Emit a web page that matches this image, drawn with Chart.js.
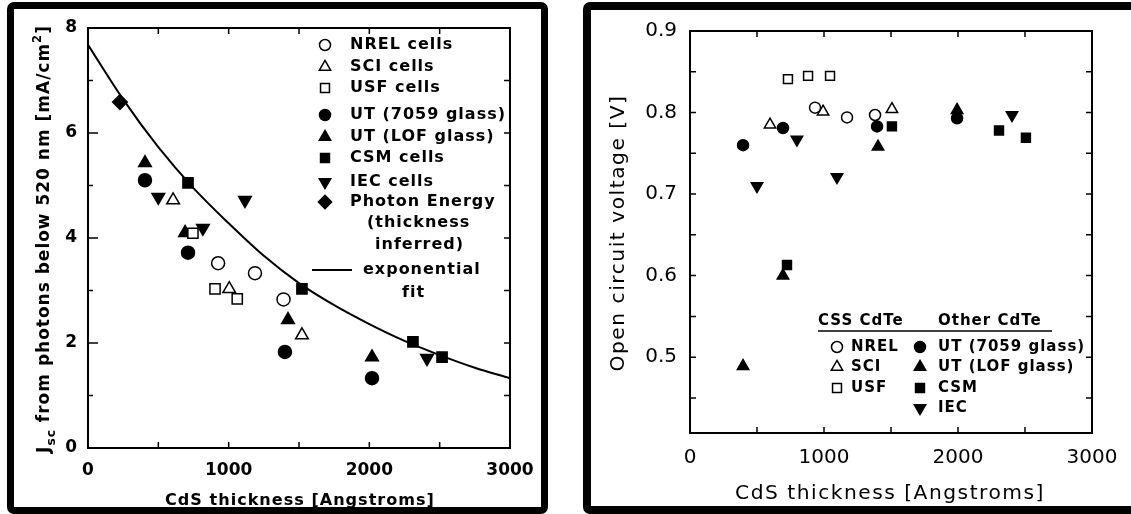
<!DOCTYPE html>
<html>
<head>
<meta charset="utf-8">
<script src="https://cdn.jsdelivr.net/npm/chart.js@4.4.1/dist/chart.umd.min.js"></script>
<style>
  html, body { margin: 0; padding: 0; background: #fff; }
  body { width: 1131px; height: 514px; position: relative; overflow: hidden; }
  canvas { position: absolute; top: 0; }
  .frame { position: absolute; border: 7px solid #000; border-radius: 7px; box-sizing: border-box; pointer-events: none; }
</style>
</head>
<body>
<canvas id="jsc" width="565" height="514" style="left:0"></canvas>
<canvas id="voc" width="566" height="514" style="left:565px"></canvas>
<div class="frame" style="left:7px;top:2px;width:541px;height:512px"></div>
<div class="frame" style="left:583px;top:2px;width:560px;height:512px;border-width:8px"></div>
<script>
// ---- axes ----
const thicknessTicks = [0, 1000, 2000, 3000];
const thicknessTickLabels = ['0', '1000', '2000', '3000'];
const thicknessMarks = [500, 1000, 1500, 2000, 2500];

const jscTicks = [0, 2, 4, 6, 8];
const jscTickLabels = ['0', '2', '4', '6', '8'];
const jscMinorMarks = [1, 3, 5, 7];

const vocTicks = [0.5, 0.6, 0.7, 0.8, 0.9];
const vocTickLabels = ['0.5', '0.6', '0.7', '0.8', '0.9'];
const vocMarks = [0.45, 0.5, 0.55, 0.6, 0.65, 0.7, 0.75, 0.8, 0.85];

// ---- left panel: Jsc below 520 nm [thickness, mA/cm2] ----
const jNrel    = [[925, 3.52], [1187, 3.33], [1390, 2.83]];
const jSci     = [[605, 4.72], [1004, 3.03], [1521, 2.15]];
const jUsf     = [[746, 4.09], [903, 3.03], [1061, 2.84]];
const jUt7059  = [[405, 5.10], [711, 3.72], [1400, 1.83], [2019, 1.33]];
const jUtLof   = [[405, 5.43], [690, 4.10], [1422, 2.44], [2019, 1.73]];
const jCsm     = [[711, 5.05], [1521, 3.03], [2310, 2.02], [2517, 1.73]];
const jIec     = [[500, 4.78], [817, 4.19], [1116, 4.72], [2410, 1.71]];
const jPhoton  = [[227, 6.59]];
const jFitX    = [0, 250, 500, 750, 1000, 1250, 1500, 1750, 2000, 2250, 2500, 2750, 3000];
const jFitY    = [7.68, 6.64, 5.73, 4.95, 4.28, 3.66, 3.14, 2.72, 2.36, 2.04, 1.77, 1.53, 1.33];
const jLegendLabels = ['NREL cells', 'SCI cells', 'USF cells', 'UT (7059 glass)', 'UT (LOF glass)', 'CSM cells', 'IEC cells', 'Photon Energy'];

// ---- right panel: open circuit voltage [thickness, V] ----
const vNrel    = [[933, 0.806], [1172, 0.794], [1381, 0.797]];
const vSci     = [[597, 0.785], [993, 0.801], [1507, 0.804]];
const vUsf     = [[731, 0.841], [881, 0.845], [1045, 0.845]];
const vUt7059  = [[396, 0.760], [694, 0.781], [1396, 0.783], [1993, 0.793]];
const vUtLof   = [[396, 0.489], [694, 0.600], [1403, 0.758], [1993, 0.803]];
const vCsm     = [[724, 0.613], [1507, 0.783], [2306, 0.778], [2507, 0.769]];
const vIec     = [[500, 0.710], [798, 0.767], [1097, 0.721], [2403, 0.797]];
const vCssLabels   = ['NREL', 'SCI', 'USF'];
const vOtherLabels = ['UT (7059 glass)', 'UT (LOF glass)', 'CSM', 'IEC'];

const FAMILY = '"DejaVu Sans", sans-serif';
Chart.defaults.font.family = FAMILY;
Chart.defaults.color = '#000';

// marker look per group
const ST = {
  nrel:   { pointStyle: 'circle',   fill: false },
  sci:    { pointStyle: 'triangle', fill: false },
  usf:    { pointStyle: 'rect',     fill: false },
  ut7059: { pointStyle: 'circle',   fill: true },
  utLof:  { pointStyle: 'triangle', fill: true },
  csm:    { pointStyle: 'rect',     fill: true },
  iec:    { pointStyle: 'triangle', fill: true, rotation: 180 },
  photon: { pointStyle: 'rectRot',  fill: true }
};

function radiusFor(st, big) {
  if (st.pointStyle === 'circle') return big ? 6.5 : 5.5;
  if (st.pointStyle === 'rect') return big ? 7.2 : 6.3;
  return big ? 7.3 : 6.6;
}

function ds(label, pts, st, big) {
  const r = radiusFor(st, big);
  return {
    label: label,
    data: pts.map(p => ({ x: p[0], y: p[1] })),
    pointStyle: st.pointStyle,
    pointRotation: st.rotation || 0,
    pointRadius: r,
    pointHoverRadius: r,
    backgroundColor: st.fill ? '#000' : '#fff',
    borderColor: '#000',
    borderWidth: 1.5,
    showLine: false
  };
}

function marker(ctx, st, x, y, r) {
  ctx.save();
  ctx.fillStyle = st.fill ? '#000' : '#fff';
  ctx.strokeStyle = '#000';
  ctx.lineWidth = 1.5;
  Chart.helpers.drawPoint(ctx, { pointStyle: st.pointStyle, rotation: st.rotation || 0, radius: r, borderWidth: 1.5 }, x, y);
  ctx.restore();
}

// text fitted to a width, with sub/superscript parts
function richText(ctx, parts, cx, cy, target, weight, ls, vertical) {
  ctx.save();
  ctx.letterSpacing = ls + 'px';
  const widthAt = s => parts.reduce((w, p) => {
    ctx.font = weight + ' ' + (s * (p.s || 1)) + 'px ' + FAMILY;
    return w + ctx.measureText(p.t).width;
  }, 0);
  const w100 = widthAt(100), w50 = widthAt(50);
  const a = (w100 - w50) / 50, b = w100 - 100 * a;
  const size = (target - b) / a;
  const total = widthAt(size);
  ctx.translate(cx, cy);
  if (vertical) ctx.rotate(-Math.PI / 2);
  ctx.fillStyle = '#000';
  ctx.textAlign = 'left';
  ctx.textBaseline = 'alphabetic';
  let x = -total / 2;
  parts.forEach(p => {
    ctx.font = weight + ' ' + (size * (p.s || 1)) + 'px ' + FAMILY;
    ctx.fillText(p.t, x, size * 0.36 + (p.dy || 0) * size);
    x += ctx.measureText(p.t).width;
  });
  ctx.restore();
}

function label(ctx, t, x, y, size, weight, ls) {
  ctx.save();
  ctx.letterSpacing = ls + 'px';
  ctx.font = weight + ' ' + size + 'px ' + FAMILY;
  ctx.fillStyle = '#000';
  ctx.textAlign = 'left';
  ctx.textBaseline = 'middle';
  ctx.fillText(t, x, y);
  const w = ctx.measureText(t).width;
  ctx.restore();
  return w;
}

// box round the plot plus inward tick marks
function framePlugin(xMarks, yMarks, leftLen) {
  return {
    id: 'frame',
    afterDatasetsDraw(chart) {
      const { ctx, chartArea: a, scales: { x, y } } = chart;
      ctx.save();
      ctx.strokeStyle = '#000';
      ctx.lineWidth = 2;
      ctx.strokeRect(a.left, a.top, a.right - a.left, a.bottom - a.top);
      ctx.lineWidth = 1.5;
      ctx.beginPath();
      xMarks.forEach(v => {
        const px = x.getPixelForValue(v);
        ctx.moveTo(px, a.bottom); ctx.lineTo(px, a.bottom - 6);
        ctx.moveTo(px, a.top); ctx.lineTo(px, a.top + 6);
      });
      yMarks.forEach(m => {
        const py = y.getPixelForValue(m[0]);
        ctx.moveTo(a.left, py); ctx.lineTo(a.left + m[1], py);
        ctx.moveTo(a.right, py); ctx.lineTo(a.right - 6, py);
      });
      ctx.stroke();
      ctx.restore();
    }
  };
}

function axis(min, max, ticks, labels, size, weight, pad, fit) {
  return {
    type: 'linear', min: min, max: max,
    afterBuildTicks: s => { s.ticks = ticks.map(v => ({ value: v })); },
    afterFit: fit,
    grid: { display: false, drawTicks: false },
    border: { display: false },
    ticks: { padding: pad, autoSkip: false, maxRotation: 0, color: '#000',
             font: { size: size, weight: weight },
             callback: (v, i) => labels[i] }
  };
}

// ---------- left chart ----------
const jText = {
  id: 'jText',
  afterDraw(chart) {
    const ctx = chart.ctx;
    richText(ctx, [{ t: 'J' }, { t: 'sc', s: 0.72, dy: 0.32 }, { t: ' from photons below 520 nm [mA/cm' },
                   { t: '2', s: 0.68, dy: -0.45 }, { t: ']' }], 43, 239, 428, 'bold', 1, true);
    richText(ctx, [{ t: 'CdS thickness [Angstroms]' }], 300, 499, 270, 'bold', 1, false);

    const rows = [45, 67, 88, 115, 137, 158, 182, 202];
    const styles = [ST.nrel, ST.sci, ST.usf, ST.ut7059, ST.utLof, ST.csm, ST.iec, ST.photon];
    jLegendLabels.forEach((t, i) => {
      marker(ctx, styles[i], 325, rows[i], radiusFor(styles[i], false));
      label(ctx, t, 350, rows[i], 16, 'bold', 1);
    });
    label(ctx, '(thickness', 367, 223, 16, 'bold', 1);
    label(ctx, 'inferred)', 375, 245, 16, 'bold', 1);
    ctx.save();
    ctx.strokeStyle = '#000'; ctx.lineWidth = 2;
    ctx.beginPath(); ctx.moveTo(312, 270); ctx.lineTo(352, 270); ctx.stroke();
    ctx.restore();
    label(ctx, 'exponential', 363, 270, 16, 'bold', 1);
    label(ctx, 'fit', 402, 293, 16, 'bold', 1);
  }
};

new Chart(document.getElementById('jsc'), {
  type: 'scatter',
  data: {
    datasets: [
      {
        label: 'exponential fit',
        type: 'line',
        data: jFitX.map((x, i) => ({ x: x, y: jFitY[i] })),
        borderColor: '#000', borderWidth: 2, pointRadius: 0,
        cubicInterpolationMode: 'monotone', fill: false
      },
      ds('NREL cells', jNrel, ST.nrel, true),
      ds('SCI cells', jSci, ST.sci, true),
      ds('USF cells', jUsf, ST.usf, true),
      ds('UT (7059 glass)', jUt7059, ST.ut7059, true),
      ds('UT (LOF glass)', jUtLof, ST.utLof, true),
      ds('CSM cells', jCsm, ST.csm, true),
      ds('IEC cells', jIec, ST.iec, true),
      ds('Photon Energy', jPhoton, ST.photon, true)
    ]
  },
  options: {
    responsive: false, animation: false, events: [],
    layout: { padding: { left: 0, right: 55, top: 28, bottom: 0 } },
    plugins: { legend: { display: false }, tooltip: { enabled: false } },
    scales: {
      x: axis(0, 3000, thicknessTicks, thicknessTickLabels, 17, 'bold', 12, s => { s.height = 66; }),
      y: axis(0, 8, jscTicks, jscTickLabels, 17, 'bold', 11, s => { s.width = 88; })
    }
  },
  plugins: [
    framePlugin(thicknessMarks, jscTicks.map(v => [v, 10]).concat(jscMinorMarks.map(v => [v, 5])), 10),
    jText
  ]
});

// ---------- right chart ----------
const vText = {
  id: 'vText',
  afterDraw(chart) {
    const ctx = chart.ctx;
    richText(ctx, [{ t: 'Open circuit voltage [V]' }], 52, 233, 277, 'normal', 1.5, true);
    richText(ctx, [{ t: 'CdS thickness [Angstroms]' }], 325, 492, 310, 'normal', 1.5, false);

    label(ctx, 'CSS CdTe', 253, 321, 15, 'bold', 1);
    label(ctx, 'Other CdTe', 373, 321, 15, 'bold', 1);
    ctx.save();
    ctx.strokeStyle = '#000'; ctx.lineWidth = 1.5;
    ctx.beginPath(); ctx.moveTo(253, 331); ctx.lineTo(487, 331); ctx.stroke();
    ctx.restore();

    const rows = [347, 367, 388, 408];
    const css = [ST.nrel, ST.sci, ST.usf];
    const other = [ST.ut7059, ST.utLof, ST.csm, ST.iec];
    vCssLabels.forEach((t, i) => {
      marker(ctx, css[i], 272, rows[i], radiusFor(css[i], false));
      label(ctx, t, 286, rows[i], 15, 'bold', 1);
    });
    vOtherLabels.forEach((t, i) => {
      marker(ctx, other[i], 355, rows[i], radiusFor(other[i], false));
      label(ctx, t, 373, rows[i], 15, 'bold', 1);
    });
  }
};

new Chart(document.getElementById('voc'), {
  type: 'scatter',
  data: {
    datasets: [
      ds('NREL', vNrel, ST.nrel, false),
      ds('SCI', vSci, ST.sci, false),
      ds('USF', vUsf, ST.usf, false),
      ds('UT (7059 glass)', vUt7059, ST.ut7059, false),
      ds('UT (LOF glass)', vUtLof, ST.utLof, false),
      ds('CSM', vCsm, ST.csm, false),
      ds('IEC', vIec, ST.iec, false)
    ]
  },
  options: {
    responsive: false, animation: false, events: [],
    layout: { padding: { left: 0, right: 39, top: 31, bottom: 0 } },
    plugins: { legend: { display: false }, tooltip: { enabled: false } },
    scales: {
      x: axis(0, 3000, thicknessTicks, thicknessTickLabels, 20, 'normal', 13, s => { s.height = 81; }),
      y: axis(0.407, 0.9, vocTicks, vocTickLabels, 20, 'normal', 13, s => { s.width = 125; })
    }
  },
  plugins: [
    framePlugin(thicknessMarks, vocMarks.map(v => [v, 6]), 6),
    vText
  ]
});
</script>
</body>
</html>
